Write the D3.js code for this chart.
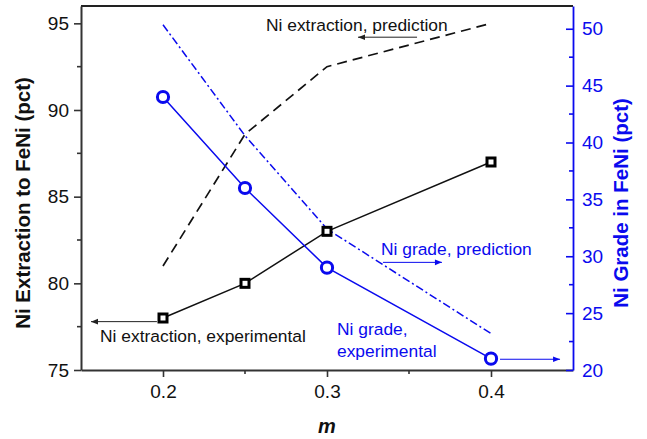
<!DOCTYPE html>
<html>
<head>
<meta charset="utf-8">
<script src="https://cdn.jsdelivr.net/npm/d3@7/dist/d3.min.js"></script>
<style>
  html, body { margin: 0; padding: 0; background: #fff; }
  svg { display: block; font-family: "Liberation Sans", Arial, sans-serif; }
</style>
</head>
<body>
<svg id="chart" width="647" height="439"></svg>
<script>
// m values (x axis)
const mValues = [0.2, 0.25, 0.3, 0.4];
// Ni extraction to FeNi (pct), left axis
const extractionExperimental = [78, 80, 83, 87];
const extractionPrediction = [81, 88.6, 92.5, 95];
// Ni grade in FeNi (pct), right axis
const gradeExperimental = [44, 36, 29, 21];
const gradePrediction = [50.35, 40.6, 32.4, 23.2];

const xTicks = [0.2, 0.3, 0.4];
const xMinorTicks = [0.25, 0.35];
const leftTicks = [75, 80, 85, 90, 95];
const leftMinorTicks = [77.5, 82.5, 87.5, 92.5];
const rightTicks = [20, 25, 30, 35, 40, 45, 50];
const rightMinorTicks = [22.5, 27.5, 32.5, 37.5, 42.5, 47.5];

const BLUE = "#0a0aee";
const BLACK = "#111";

const svg = d3.select("#chart");
const plot = { left: 81, right: 573, top: 6, bottom: 370 };

const x = d3.scaleLinear().domain([0.15, 0.45]).range([plot.left, plot.right]);
const yL = d3.scaleLinear().domain([75, 96]).range([plot.bottom, plot.top]);
const yR = d3.scaleLinear().domain([20, 52]).range([plot.bottom, plot.top]);

// ---- axes ----
function styleAxis(g, color, width) {
  g.select(".domain").attr("stroke", color).attr("stroke-width", width);
  g.selectAll(".tick line").attr("stroke", color).attr("stroke-width", 1.6);
  g.selectAll(".tick text").attr("fill", color)
    .style("font-family", "'Liberation Sans', Arial, sans-serif")
    .style("font-size", "19px");
}

// top frame line
svg.append("line")
  .attr("x1", plot.left).attr("x2", plot.right)
  .attr("y1", plot.top).attr("y2", plot.top)
  .attr("stroke", "#222").attr("stroke-width", 2);

// bottom axis
const gx = svg.append("g").attr("transform", `translate(0,${plot.bottom})`)
  .call(d3.axisBottom(x).tickValues(xTicks).tickFormat(d3.format(".1f"))
    .tickSizeInner(7).tickSizeOuter(0).tickPadding(8));
styleAxis(gx, "#333", 2);
gx.selectAll(".tick text").attr("fill", BLACK);
svg.append("g").attr("transform", `translate(0,${plot.bottom})`)
  .selectAll("line").data(xMinorTicks).join("line")
  .attr("x1", d => x(d)).attr("x2", d => x(d))
  .attr("y1", 0).attr("y2", 4)
  .attr("stroke", "#333").attr("stroke-width", 1.6);

// left axis
const gl = svg.append("g").attr("transform", `translate(${plot.left},0)`)
  .call(d3.axisLeft(yL).tickValues(leftTicks).tickFormat(d3.format("d"))
    .tickSizeInner(7).tickSizeOuter(0).tickPadding(5));
styleAxis(gl, "#333", 2);
gl.selectAll(".tick text").attr("fill", BLACK);
svg.append("g").attr("transform", `translate(${plot.left},0)`)
  .selectAll("line").data(leftMinorTicks).join("line")
  .attr("x1", 0).attr("x2", -4)
  .attr("y1", d => yL(d)).attr("y2", d => yL(d))
  .attr("stroke", "#333").attr("stroke-width", 1.6);

// right axis (ticks point into the plot)
const gr = svg.append("g").attr("transform", `translate(${plot.right},0)`)
  .call(d3.axisRight(yR).tickValues(rightTicks).tickFormat(d3.format("d"))
    .tickSizeInner(-7).tickSizeOuter(0).tickPadding(9));
styleAxis(gr, BLUE, 1.8);
svg.append("g").attr("transform", `translate(${plot.right},0)`)
  .selectAll("line").data(rightMinorTicks).join("line")
  .attr("x1", 0).attr("x2", -4)
  .attr("y1", d => yR(d)).attr("y2", d => yR(d))
  .attr("stroke", BLUE).attr("stroke-width", 1.6);

// axis titles
svg.append("text")
  .attr("transform", `translate(30,203) rotate(-90)`)
  .attr("text-anchor", "middle")
  .attr("font-weight", "bold").attr("font-size", "20.5px")
  .attr("fill", BLACK)
  .text("Ni Extraction to FeNi (pct)");

svg.append("text")
  .attr("transform", `translate(628,203) rotate(-90)`)
  .attr("text-anchor", "middle")
  .attr("font-weight", "bold").attr("font-size", "20.5px")
  .attr("fill", BLUE)
  .text("Ni Grade in FeNi (pct)");

svg.append("text")
  .attr("x", x(0.3)).attr("y", 433)
  .attr("text-anchor", "middle")
  .attr("font-weight", "bold").attr("font-style", "italic")
  .attr("font-size", "20px").attr("fill", BLACK)
  .text("m");

// ---- series ----
const lineL = d3.line().x(d => x(d[0])).y(d => yL(d[1]));
const lineR = d3.line().x(d => x(d[0])).y(d => yR(d[1]));
const zip = (xs, ys) => xs.map((v, i) => [v, ys[i]]);

// Ni extraction, prediction (dashed)
svg.append("path")
  .datum(zip(mValues, extractionPrediction))
  .attr("d", lineL).attr("fill", "none")
  .attr("stroke", BLACK).attr("stroke-width", 1.7)
  .attr("stroke-dasharray", "10,6");

// Ni grade, prediction (dash-dot)
svg.append("path")
  .datum(zip(mValues, gradePrediction))
  .attr("d", lineR).attr("fill", "none")
  .attr("stroke", BLUE).attr("stroke-width", 1.5)
  .attr("stroke-dasharray", "8,3,2,3");

// Ni extraction, experimental
svg.append("path")
  .datum(zip(mValues, extractionExperimental))
  .attr("d", lineL).attr("fill", "none")
  .attr("stroke", BLACK).attr("stroke-width", 1.5);

// Ni grade, experimental
svg.append("path")
  .datum(zip(mValues, gradeExperimental))
  .attr("d", lineR).attr("fill", "none")
  .attr("stroke", BLUE).attr("stroke-width", 1.5);

// markers
const sq = 8;
svg.append("g").selectAll("rect")
  .data(zip(mValues, extractionExperimental)).join("rect")
  .attr("x", d => x(d[0]) - sq / 2).attr("y", d => yL(d[1]) - sq / 2)
  .attr("width", sq).attr("height", sq)
  .attr("fill", "#fff").attr("stroke", "#000").attr("stroke-width", 3);

svg.append("g").selectAll("circle")
  .data(zip(mValues, gradeExperimental)).join("circle")
  .attr("cx", d => x(d[0])).attr("cy", d => yR(d[1]))
  .attr("r", 5.6)
  .attr("fill", "#fff").attr("stroke", BLUE).attr("stroke-width", 3);

// ---- annotations (placed in left-axis data units) ----
const defs = svg.append("defs");
function arrowMarker(id, color) {
  defs.append("marker")
    .attr("id", id).attr("viewBox", "0 0 10 10")
    .attr("refX", 10).attr("refY", 5)
    .attr("markerWidth", 9).attr("markerHeight", 7)
    .attr("markerUnits", "userSpaceOnUse")
    .attr("orient", "auto")
    .append("path").attr("d", "M0,1 L10,5 L0,9 Z").attr("fill", color);
}
arrowMarker("arrowBlack", "#222");
arrowMarker("arrowBlue", BLUE);

const annotations = [
  { lines: ["Ni extraction, prediction"], tx: 0.2628, ty: 94.56, color: BLACK,
    arrow: { x1: 0.3549, x2: 0.3189, y: 94.2 }, marker: "arrowBlack" },
  { lines: ["Ni extraction, experimental"], tx: 0.1616, ty: 76.63, color: BLACK,
    arrow: { x1: 0.1963, x2: 0.1561, y: 77.79 }, marker: "arrowBlack" },
  { lines: ["Ni grade, prediction"], tx: 0.3329, ty: 81.63, color: BLUE,
    arrow: { x1: 0.3341, x2: 0.3701, y: 81.21 }, marker: "arrowBlue" },
  { lines: ["Ni grade,", "experimental"], tx: 0.3061, ty: 77.02, color: BLUE,
    arrow: { x1: 0.4055, x2: 0.4421, y: 75.62 }, marker: "arrowBlue" }
];

annotations.forEach(a => {
  const t = svg.append("text")
    .attr("x", x(a.tx)).attr("y", yL(a.ty))
    .attr("font-size", "17.4px").attr("fill", a.color);
  a.lines.forEach((s, i) => {
    t.append("tspan").attr("x", x(a.tx)).attr("dy", i === 0 ? 0 : 21.7).text(s);
  });
  svg.append("line")
    .attr("x1", x(a.arrow.x1)).attr("x2", x(a.arrow.x2))
    .attr("y1", yL(a.arrow.y)).attr("y2", yL(a.arrow.y))
    .attr("stroke", a.color === BLUE ? BLUE : "#222").attr("stroke-width", 1)
    .attr("marker-end", `url(#${a.marker})`);
});
</script>
</body>
</html>
